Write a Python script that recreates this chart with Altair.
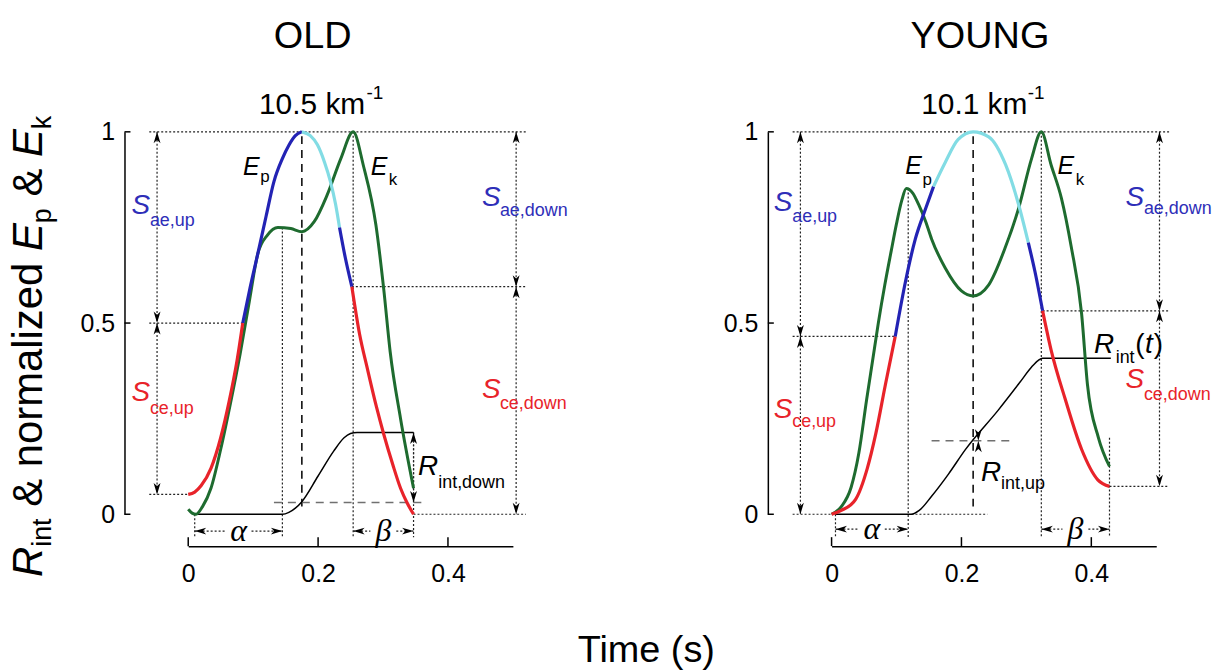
import altair as alt
import pandas as pd

# ---------------- layout / style ----------------
W, H = 326, 384           # plot area of each panel (x: 0..0.5, y: 0..1)
PXU = W / 0.5             # pixels per x unit
RED = "#E8232A"
BLUE = "#2323B4"
CYAN = "#82DCE4"
GREEN = "#1E6B2F"
SBLUE = "#2E2EB8"
BLACK = "#000000"
GREY = "#707070"
FONT = "Liberation Sans"
SERIF = "Liberation Serif"

x_ticks = [0, 0.2, 0.4]
y_ticks = [0, 0.5, 1]

# ---------------- OLD panel data ----------------
old_ep_t = [0, 0.01, 0.02, 0.035, 0.05, 0.063, 0.075, 0.084, 0.095, 0.107, 0.12, 0.132, 0.145, 0.155, 0.165, 0.175,
            0.188, 0.199, 0.21, 0.219, 0.227, 0.233, 0.242, 0.252, 0.264, 0.276, 0.29, 0.301, 0.315, 0.327, 0.337, 0.347]
old_ep_v = [0.052, 0.058, 0.075, 0.12, 0.2, 0.295, 0.4, 0.5, 0.59, 0.68, 0.78, 0.87, 0.93, 0.965, 0.99, 1.0,
            0.99, 0.966, 0.92, 0.87, 0.81, 0.75, 0.67, 0.595, 0.47, 0.38, 0.28, 0.21, 0.13, 0.068, 0.03, 0.0]
old_ep_breaks = [0.084, 0.175, 0.233, 0.252]
old_ek_t = [0, 0.006, 0.012, 0.022, 0.035, 0.05, 0.065, 0.08, 0.094, 0.107, 0.122, 0.138, 0.158, 0.175, 0.194,
            0.214, 0.235, 0.254, 0.27, 0.289, 0.301, 0.311, 0.327, 0.347]
old_ek_v = [0.013, 0.003, 0.0, 0.02, 0.068, 0.17, 0.29, 0.42, 0.556, 0.68, 0.73, 0.75, 0.747, 0.739, 0.765,
            0.835, 0.93, 1.0, 0.91, 0.757, 0.59, 0.425, 0.25, 0.068]
old_rint_t = [0.01, 0.145, 0.155, 0.165, 0.175, 0.2, 0.224, 0.24, 0.25, 0.26, 0.347]
old_rint_v = [0, 0, 0.005, 0.016, 0.033, 0.1, 0.165, 0.2, 0.211, 0.214, 0.214]
old_keys = dict(up_split=0.5, t_up=0.084, ep_start=0.052, down_split=0.595, t_down=0.252, ep_end=0.0,
                t_end=0.347, t_ep_peak=0.175, t_ek_peak=0.254, t_a0=0.01, t_a1=0.145, a1_top=0.75,
                end_top=0.214, rint_mark=0.031, dash0=0.132, dash1=0.365, rint_x=0.347, rint_top=0.214,
                ya=-0.044, extra_dots=[])
old_labels = [
    ("S", -0.0874, 0.786, 28, SBLUE, "it"), ("ae,up", -0.0590, 0.753, 18, SBLUE, "rm"),
    ("S", -0.0874, 0.297, 28, RED, "it"), ("ce,up", -0.0590, 0.263, 18, RED, "rm"),
    ("S", 0.4525, 0.805, 28, SBLUE, "it"), ("ae,down", 0.480, 0.779, 18, SBLUE, "rm"),
    ("S", 0.4525, 0.305, 28, RED, "it"), ("ce,down", 0.480, 0.276, 18, RED, "rm"),
    ("E", 0.0844, 0.888, 25, BLACK, "it"), ("p", 0.111, 0.870, 17, BLACK, "rm"),
    ("E", 0.281, 0.888, 25, BLACK, "it"), ("k", 0.309, 0.862, 17, BLACK, "rm"),
    ("R", 0.354, 0.102, 28, BLACK, "it"), ("int,down", 0.385, 0.068, 18, BLACK, "rm"),
    ("10.5 km", 0.109, 1.047, 30, BLACK, "rm"), ("-1", 0.2745, 1.086, 19, BLACK, "rm"),
    ("OLD", 0.1917, 1.219, 38, BLACK, "ctr"),
    ("Time (s)", 0.7055, -0.385, 38, BLACK, "ctr"),
]

# ---------------- YOUNG panel data ----------------
young_ep_t = [0, 0.015, 0.037, 0.055, 0.068, 0.083, 0.098, 0.114, 0.129, 0.145, 0.157, 0.175, 0.195, 0.218,
              0.242, 0.268, 0.288, 0.303, 0.313, 0.325, 0.338, 0.36, 0.385, 0.41, 0.428]
young_ep_v = [0, 0.01, 0.039, 0.12, 0.21, 0.34, 0.465, 0.61, 0.72, 0.8, 0.857, 0.92, 0.98, 1.0,
              0.987, 0.914, 0.81, 0.71, 0.636, 0.532, 0.43, 0.3, 0.17, 0.09, 0.073]
young_ep_breaks = [0.098, 0.157, 0.303, 0.325]
young_ek_t = [0, 0.015, 0.03, 0.042, 0.054, 0.063, 0.072, 0.082, 0.092, 0.1, 0.108, 0.115, 0.125, 0.134, 0.145,
              0.154, 0.175, 0.2, 0.218, 0.242, 0.268, 0.288, 0.308, 0.323, 0.338, 0.354, 0.369, 0.385, 0.394,
              0.411, 0.428]
young_ek_v = [0, 0.02, 0.07, 0.16, 0.3, 0.4, 0.5, 0.6, 0.69, 0.76, 0.82, 0.852, 0.84, 0.81, 0.765,
              0.72, 0.644, 0.584, 0.571, 0.6, 0.7, 0.8, 0.93, 1.0, 0.914, 0.826, 0.7, 0.525, 0.34,
              0.2, 0.125]
young_rint_t = [0.006, 0.123, 0.135, 0.154, 0.18, 0.206, 0.257, 0.29, 0.308, 0.318, 0.325, 0.43]
young_rint_v = [0, 0, 0.01, 0.047, 0.105, 0.169, 0.273, 0.345, 0.385, 0.402, 0.408, 0.408]
young_keys = dict(up_split=0.465, t_up=0.098, ep_start=0.0, down_split=0.532, t_down=0.325, ep_end=0.073,
                  t_end=0.428, t_ep_peak=0.218, t_ek_peak=0.323, t_a0=0.006, t_a1=0.118, a1_top=0.852,
                  end_top=0.2, rint_mark=0.192, dash0=0.154, dash1=0.28, rint_x=0.226, rint_top=0.192,
                  ya=-0.039, extra_dots=[(0.123, 0.0, 0.24, 0.0)])
young_labels = [
    ("S", -0.089, 0.794, 28, SBLUE, "it"), ("ae,up", -0.0606, 0.763, 18, SBLUE, "rm"),
    ("S", -0.089, 0.253, 28, RED, "it"), ("ce,up", -0.0606, 0.227, 18, RED, "rm"),
    ("S", 0.4525, 0.807, 28, SBLUE, "it"), ("ae,down", 0.481, 0.786, 18, SBLUE, "rm"),
    ("S", 0.4525, 0.331, 28, RED, "it"), ("ce,down", 0.481, 0.300, 18, RED, "rm"),
    ("E", 0.1135, 0.891, 25, BLACK, "it"), ("p", 0.140, 0.862, 17, BLACK, "rm"),
    ("E", 0.348, 0.891, 25, BLACK, "it"), ("k", 0.376, 0.862, 17, BLACK, "rm"),
    ("R", 0.404, 0.422, 28, BLACK, "it"), ("int", 0.4375, 0.396, 18, BLACK, "rm"),
    ("(", 0.4675, 0.422, 28, BLACK, "rm"), ("t", 0.4825, 0.422, 28, BLACK, "it"),
    (")", 0.4960, 0.422, 28, BLACK, "rm"),
    ("R", 0.23, 0.086, 28, BLACK, "it"), ("int,up", 0.261, 0.065, 18, BLACK, "rm"),
    ("10.1 km", 0.138, 1.047, 30, BLACK, "rm"), ("-1", 0.302, 1.086, 19, BLACK, "rm"),
    ("YOUNG", 0.2285, 1.219, 38, BLACK, "ctr"),
]

# y-axis title pieces (rotated): text / style / subscript flag / space before
ylab_pieces = [("R", "it", False, False), ("int", "rm", True, False), ("&", "rm", False, True),
               ("normalized", "rm", False, True), ("E", "it", False, True), ("p", "rm", True, False),
               ("&", "rm", False, True), ("E", "it", False, True), ("k", "rm", True, False)]
YL_MAIN, YL_SUB = 42, 27

# ---------------- helpers ----------------
ARIAL = {"R": .722, "i": .222, "n": .556, "t": .278, "&": .667, "o": .556, "r": .333, "m": .833, "a": .556,
         "l": .222, "z": .5, "e": .556, "d": .556, "E": .667, "p": .556, "k": .5}
SPACE = .278


def ylabel_rows():
    rows = []
    cur = 447.0                       # px from plot top (start of text, bottom)
    xmain, xsub = -147.0, -138.0      # baselines, px from plot left
    for txt, kind, sub, sp in ylab_pieces:
        fs = YL_SUB if sub else YL_MAIN
        if sp:
            cur -= SPACE * YL_MAIN
        rows.append(dict(x=(xsub if sub else xmain) / PXU, y=1 - cur / H, t=txt, fs=fs, col=BLACK,
                         ang=270, kind=kind))
        cur -= sum(ARIAL.get(c, .55) for c in txt) * fs
    return rows


xs = alt.Scale(domain=[0, 0.5], nice=False, zero=False)
ys = alt.Scale(domain=[0, 1], nice=False, zero=False)
xax = alt.Axis(values=x_ticks, format="~g", ticks=False, tickSize=0, offset=32, domainColor=BLACK,
               domainWidth=1.5, labelFontSize=25, labelFont=FONT, labelColor=BLACK, labelPadding=16,
               labelFlush=False, labelOverlap=False, grid=False, title=None)
yax = alt.Axis(values=y_ticks, format="~g", ticks=False, tickSize=0, offset=64, domainColor=BLACK,
               domainWidth=1.5, labelFontSize=25, labelFont=FONT, labelColor=BLACK, labelPadding=10,
               labelFlush=False, labelOverlap=False, grid=False, title=None)

UP = "M0,0 L0.75,2.5 L0,1.8 L-0.75,2.5 Z"
DOWN = "M0,0 L0.75,-2.5 L0,-1.8 L-0.75,-2.5 Z"
LEFT = "M0,0 L2.5,-0.75 L1.8,0 L2.5,0.75 Z"
RIGHT = "M0,0 L-2.5,-0.75 L-1.8,0 L-2.5,0.75 Z"

XL, XR, XA, XRA, YB = -0.06, 0.52, -0.048, 0.505, -0.06


def X(f="x"):
    return alt.X(f"{f}:Q", scale=xs, axis=xax)


def Y(f="y"):
    return alt.Y(f"{f}:Q", scale=ys, axis=yax)


def panel(ep_t, ep_v, breaks, ek_t, ek_v, rint_t, rint_v, k, labels, with_ylabel):
    # Ep split into colored segments
    edges = [ep_t[0]] + breaks + [ep_t[-1]]
    colors = [RED, BLUE, CYAN, BLUE, RED]
    ep_rows = []
    for i, c in enumerate(colors):
        for t, v in zip(ep_t, ep_v):
            if edges[i] <= t <= edges[i + 1]:
                ep_rows.append(dict(x=t, y=v, seg=i, col=c))
    ep_df = pd.DataFrame(ep_rows)
    ek_df = pd.DataFrame(dict(x=ek_t, y=ek_v))
    ri_df = pd.DataFrame(dict(x=rint_t, y=rint_v))

    dots = [
        (XL, 1, XR, 1),
        (XL, k["up_split"], k["t_up"], k["up_split"]),
        (XL, k["ep_start"], 0, k["ep_start"]),
        (k["t_down"], k["down_split"], XR, k["down_split"]),
        (k["t_end"], k["ep_end"], XR, k["ep_end"]),
        (k["t_a1"], k["a1_top"], k["t_a1"], YB),
        (k["t_ek_peak"], 1, k["t_ek_peak"], YB),
        (k["t_end"], k["end_top"], k["t_end"], YB),
        (k["t_a0"], 0, k["t_a0"], YB),
    ] + list(k["extra_dots"])
    heads = []
    varrows = [(XA, 1, k["up_split"]), (XA, k["up_split"], k["ep_start"]),
               (XRA, 1, k["down_split"]), (XRA, k["down_split"], k["ep_end"]),
               (k["rint_x"], k["rint_top"], k["rint_mark"])]
    for x, y1, y2 in varrows:
        dots.append((x, y1, x, y2))
        heads.append(dict(x=x, y=y1, d="up"))
        heads.append(dict(x=x, y=y2, d="down"))
    greek = []
    gap = 13 / PXU
    for x0, x1, g in [(k["t_a0"], k["t_a1"], "α"), (k["t_ek_peak"], k["t_end"], "β")]:
        m = (x0 + x1) / 2
        dots.append((x0, k["ya"], m - gap, k["ya"]))
        dots.append((m + gap, k["ya"], x1, k["ya"]))
        heads.append(dict(x=x0, y=k["ya"], d="left"))
        heads.append(dict(x=x1, y=k["ya"], d="right"))
        greek.append(dict(x=m, y=k["ya"], t=g))
    dot_df = pd.DataFrame(dots, columns=["x", "y", "x2", "y2"])
    head_df = pd.DataFrame(heads)
    greek_df = pd.DataFrame(greek)
    dash_df = pd.DataFrame([
        dict(x=k["t_ep_peak"], y=0.02, x2=k["t_ep_peak"], y2=1, col=BLACK),
        dict(x=k["dash0"], y=k["rint_mark"], x2=k["dash1"], y2=k["rint_mark"], col=GREY),
    ])

    txt_rows = [dict(x=x, y=y, t=t, fs=fs, col=c, ang=0, kind=kd) for t, x, y, fs, c, kd in labels]
    if with_ylabel:
        txt_rows += ylabel_rows()
    txt_df = pd.DataFrame(txt_rows)

    layers = []
    layers.append(alt.Chart(ep_df).mark_line(strokeWidth=3.2, interpolate="monotone", opacity=0).encode(
        x=X(), y=Y(), detail="seg:N"))
    layers.append(alt.Chart(dot_df).mark_rule(strokeDash=[2, 2], strokeWidth=1.2, color="#222222").encode(
        x=X(), y=Y(), x2="x2:Q", y2="y2:Q"))
    layers.append(alt.Chart(dash_df).mark_rule(strokeDash=[8, 6], strokeWidth=1.5).encode(
        x=X(), y=Y(), x2="x2:Q", y2="y2:Q", color=alt.Color("col:N", scale=None)))
    layers.append(alt.Chart(ri_df).mark_line(color=BLACK, strokeWidth=1.5, interpolate="monotone").encode(
        x=X(), y=Y()))
    layers.append(alt.Chart(ek_df).mark_line(color=GREEN, strokeWidth=3, interpolate="monotone").encode(
        x=X(), y=Y()))
    layers.append(alt.Chart(ep_df).mark_line(strokeWidth=3.2, interpolate="monotone").encode(
        x=X(), y=Y(), detail="seg:N", color=alt.Color("col:N", scale=None),
        order=alt.Order("x:Q")))
    layers.append(alt.Chart(head_df).mark_point(filled=True, opacity=1, size=85, strokeWidth=0,
                                                color=BLACK).encode(
        x=X(), y=Y(), shape=alt.Shape("d:N", scale=alt.Scale(domain=["up", "down", "left", "right"],
                                                              range=[UP, DOWN, LEFT, RIGHT]), legend=None)))
    # inward ticks
    layers.append(alt.Chart(pd.DataFrame(dict(x=x_ticks))).mark_rule(color=BLACK, strokeWidth=1.5).encode(
        x=X(), y=alt.value(H + 32), y2=alt.value(H + 32 - 9)))
    layers.append(alt.Chart(pd.DataFrame(dict(y=y_ticks))).mark_rule(color=BLACK, strokeWidth=1.5).encode(
        y=Y(), x=alt.value(-64), x2=alt.value(-58)))
    layers.append(alt.Chart(greek_df).mark_text(font=SERIF, fontStyle="italic", fontSize=32, align="center",
                                                baseline="middle", color=BLACK).encode(
        x=X(), y=Y(), text="t:N"))
    styles = {"it": dict(font=FONT, fontStyle="italic", align="left", baseline="alphabetic"),
              "rm": dict(font=FONT, align="left", baseline="alphabetic"),
              "ctr": dict(font=FONT, align="center", baseline="alphabetic")}
    for kd, st in styles.items():
        sub = txt_df[txt_df["kind"] == kd]
        if len(sub) == 0:
            continue
        layers.append(alt.Chart(sub).mark_text(**st).encode(
            x=X(), y=Y(), text="t:N", size=alt.Size("fs:Q", scale=None),
            color=alt.Color("col:N", scale=None), angle=alt.Angle("ang:Q", scale=None)))
    return alt.layer(*layers).properties(width=W, height=H)


left = panel(old_ep_t, old_ep_v, old_ep_breaks, old_ek_t, old_ek_v, old_rint_t, old_rint_v,
             old_keys, old_labels, True)
right = panel(young_ep_t, young_ep_v, young_ep_breaks, young_ek_t, young_ek_v, young_rint_t, young_rint_v,
              young_keys, young_labels, False)

chart = alt.hconcat(left, right, spacing=320, bounds="flush").properties(
    padding={"left": 7, "top": 16, "right": 5, "bottom": 0},
    background="white",
).configure_view(stroke=None)

chart.save("out.html", embed_options={"renderer": "svg", "actions": False})
